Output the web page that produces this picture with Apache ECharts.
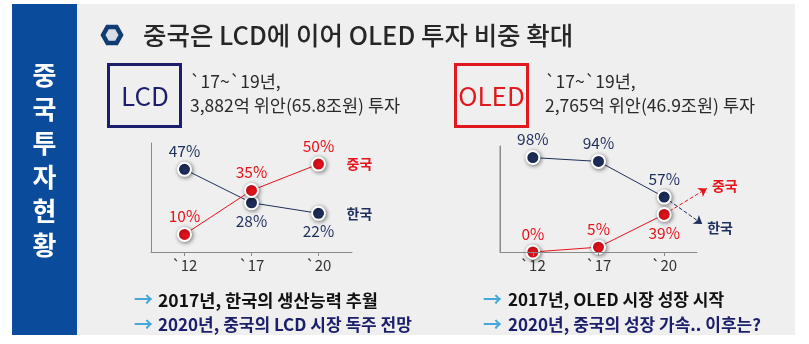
<!DOCTYPE html>
<html><head><meta charset="utf-8">
<script src="https://cdn.jsdelivr.net/npm/echarts@6/dist/echarts.min.js"></script>
<style>html,body{margin:0;padding:0;background:#fff}#c{width:809px;height:344px}</style>
</head><body><div id="c"></div>
<script>
// ---- data ----
const years = ['`12', '`17', '`20'];
const lcdKorea = [47, 28, 22];
const lcdChina = [10, 35, 50];
const oledKorea = [98, 94, 57];
const oledChina = [0, 5, 39];
// projected trend arrows for OLED after `20 (x = year index, y = %)
const oledKoreaTrend = [[2, 57], [2.58, 29]];
const oledChinaTrend = [[2, 39], [2.65, 66]];
const nameKorea = '한국';
const nameChina = '중국';
const sideTitle = '중\n국\n투\n자\n현\n황';
const mainTitle = '중국은 LCD에 이어 OLED 투자 비중 확대';
const lcdInfo = ['`17~`19년,', '3,882억 위안(65.8조원) 투자'];
const oledInfo = ['`17~`19년,', '2,765억 위안(46.9조원) 투자'];
const lcdNotes = ['2017년, 한국의 생산능력 추월', '2020년, 중국의 LCD 시장 독주 전망'];
const oledNotes = ['2017년, OLED 시장 성장 시작', '2020년, 중국의 성장 가속.. 이후는?'];

// ---- styles ----
const FONT = '"Noto Sans CJK KR", "Noto Sans", sans-serif';
const NAVY = '#1e2f5c';
const RED = '#e8121b';
const BOXNAVY = '#1b1f6b';
const AXIS = '#8a8a8a';
const X_MIN = -0.5, X_MAX = 2.5;
const LCD_MAX = 62, OLED_MAX = 110;

const lcdKoreaPos = ['top', 'bottom', 'bottom'];
const lcdChinaPos = ['top', 'top', 'top'];
const oledKoreaPos = ['top', 'top', 'top'];
const oledChinaPos = ['top', 'top', 'bottom'];

function items(vals, pos) {
  return vals.map((v, i) => ({ value: [i, v], label: { position: pos[i] } }));
}
function markerStyle(color) {
  return { color: color, borderColor: '#fff', borderWidth: 2, shadowBlur: 4, shadowColor: 'rgba(0,0,0,0.45)', shadowOffsetX: 1, shadowOffsetY: 1 };
}
function lineSeries(name, vals, pos, color, idx, endLabel) {
  return {
    type: 'line', name: name, xAxisIndex: idx, yAxisIndex: idx,
    data: items(vals, pos),
    symbol: 'circle', symbolSize: 13,
    lineStyle: { color: color, width: 1 },
    itemStyle: markerStyle(color),
    label: { show: true, formatter: p => p.value[1] + '%', color: color, fontSize: 15.5, fontFamily: FONT, distance: 3 },
    endLabel: endLabel ? { show: true, formatter: '{a}', color: color, fontSize: 14, fontWeight: 'bold', fontFamily: FONT, distance: 28 } : { show: false },
    z: 5
  };
}
// vertical axis line drawn through the grid's own scale (left edge of the value range)
function axisLineSeries(idx, max) {
  return {
    type: 'line', name: 'axis', xAxisIndex: idx, yAxisIndex: idx,
    data: [[X_MIN, 0], [X_MIN, max]], symbol: 'none', silent: true, clip: false,
    lineStyle: { color: AXIS, width: 1 }, label: { show: false }, z: 1
  };
}
function trend(name, coords, color) {
  return {
    name: name, coords: coords,
    lineStyle: { color: color, width: 1, type: 'dashed', opacity: 1 },
    label: { show: true, position: 'end', formatter: name, color: color, opacity: 1, fontSize: 14, fontWeight: 'bold', fontFamily: FONT, distance: 6 }
  };
}
function xAxisFor(grid) {
  return {
    type: 'value', gridIndex: grid, min: X_MIN, max: X_MAX, z: 10,
    splitLine: { show: false },
    axisLine: { show: true, onZero: false, lineStyle: { color: AXIS, width: 1 } },
    axisTick: { show: true, customValues: [0, 1, 2], length: 4, lineStyle: { color: AXIS } },
    axisLabel: { show: true, customValues: [0, 1, 2], formatter: v => years[Math.round(v)], color: '#333', fontSize: 15, fontFamily: FONT, margin: 6 }
  };
}
function valAxis(grid, max) {
  return {
    type: 'value', gridIndex: grid, min: 0, max: max, position: 'left', z: 10,
    axisLine: { show: true, onZero: false, lineStyle: { color: AXIS, width: 1 } },
    axisTick: { show: false }, axisLabel: { show: false }, splitLine: { show: false }
  };
}

const chart = echarts.init(document.getElementById('c'));
const gtext = (x, y, text, style) => ({ type: 'text', x: x, y: y, style: Object.assign({ text: text, fontFamily: FONT, textVerticalAlign: 'middle' }, style) });
const ARROW = '#45a7da';

chart.setOption({
  animation: false,
  backgroundColor: '#ffffff',
  grid: [
    { left: 151, top: 143, width: 201, height: 109 },
    { left: 500, top: 146, width: 197, height: 106 }
  ],
  xAxis: [xAxisFor(0), xAxisFor(1)],
  yAxis: [valAxis(0, LCD_MAX), valAxis(1, OLED_MAX)],
  series: [
    axisLineSeries(1, OLED_MAX),
    lineSeries(nameKorea, lcdKorea, lcdKoreaPos, NAVY, 0, true),
    lineSeries(nameChina, lcdChina, lcdChinaPos, RED, 0, true),
    lineSeries(nameKorea, oledKorea, oledKoreaPos, NAVY, 1, false),
    lineSeries(nameChina, oledChina, oledChinaPos, RED, 1, false),
    {
      type: 'lines', coordinateSystem: 'cartesian2d', xAxisIndex: 1, yAxisIndex: 1,
      clip: false, silent: true, z: 3,
      symbol: ['none', 'arrow'], symbolSize: 8,
      lineStyle: { opacity: 1 },
      data: [trend(nameKorea, oledKoreaTrend, NAVY), trend(nameChina, oledChinaTrend, RED)]
    }
  ],
  graphic: [
    { type: 'rect', z: -10, silent: true, shape: { x: 77, y: 4, width: 718, height: 331 }, style: { fill: '#efefef' } },
    { type: 'rect', z: -9, silent: true, shape: { x: 12, y: 4, width: 65, height: 331 }, style: { fill: '#0b4b9b' } },
    { type: 'text', x: 44.5, y: 160, style: { text: sideTitle, fontFamily: FONT, fontSize: 26, fontWeight: 'bold', fill: '#fff', lineHeight: 34, textAlign: 'center', textVerticalAlign: 'middle' } },
    { type: 'polygon', shape: { points: [[103, 35], [107.5, 27], [116.5, 27], [121, 35], [116.5, 43], [107.5, 43]] }, style: { fill: '#d6dce5', stroke: '#0f3d73', lineWidth: 4.5 } },
    gtext(143, 35, mainTitle, { fontSize: 25.5, fontWeight: 500, fill: '#262626' }),
    { type: 'rect', shape: { x: 108.5, y: 64.5, width: 72, height: 62 }, style: { fill: 'none', stroke: BOXNAVY, lineWidth: 3 } },
    gtext(145, 96, 'LCD', { fontSize: 26, fill: BOXNAVY, textAlign: 'center' }),
    { type: 'rect', shape: { x: 455.5, y: 64.5, width: 72, height: 62 }, style: { fill: 'none', stroke: '#e0191f', lineWidth: 3 } },
    gtext(491.5, 96, 'OLED', { fontSize: 26, fill: '#e0191f', textAlign: 'center' }),
    gtext(190, 81, lcdInfo[0], { fontSize: 17.5, fill: '#2a2a2a' }),
    gtext(190, 105, lcdInfo[1], { fontSize: 17.5, fill: '#2a2a2a' }),
    gtext(545, 81, oledInfo[0], { fontSize: 17.5, fill: '#2a2a2a' }),
    gtext(545, 105, oledInfo[1], { fontSize: 17.5, fill: '#2a2a2a' }),
    gtext(134, 300, '→', { fontSize: 19, fontWeight: 'bold', fill: ARROW }),
    gtext(134, 325, '→', { fontSize: 19, fontWeight: 'bold', fill: ARROW }),
    gtext(158, 300, lcdNotes[0], { fontSize: 17.5, fontWeight: 'bold', fill: '#111' }),
    gtext(158, 325, lcdNotes[1], { fontSize: 17, fontWeight: 'bold', fill: BOXNAVY }),
    gtext(483, 300, '→', { fontSize: 19, fontWeight: 'bold', fill: ARROW }),
    gtext(483, 325, '→', { fontSize: 19, fontWeight: 'bold', fill: ARROW }),
    gtext(508, 300, oledNotes[0], { fontSize: 17, fontWeight: 'bold', fill: '#111' }),
    gtext(508, 325, oledNotes[1], { fontSize: 17, fontWeight: 'bold', fill: BOXNAVY })
  ]
});
</script></body></html>
